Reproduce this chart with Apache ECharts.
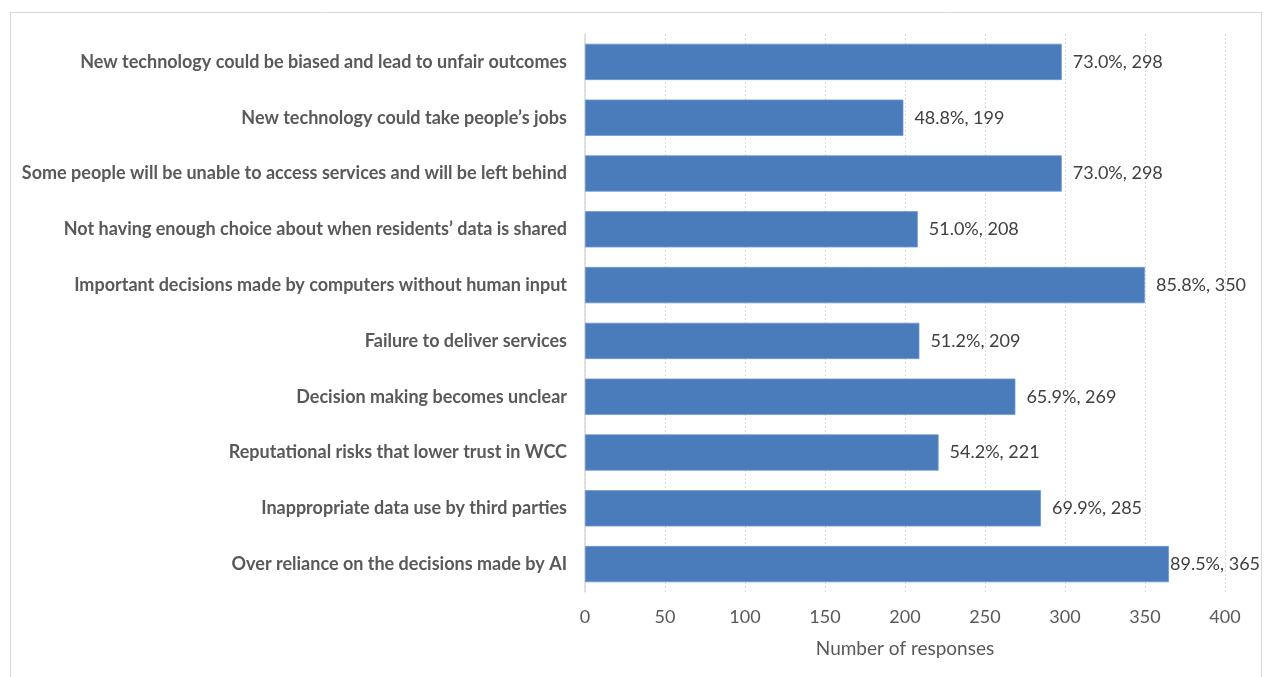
<!DOCTYPE html>
<html>
<head>
<meta charset="utf-8">
<script src="https://cdn.jsdelivr.net/npm/echarts@6/dist/echarts.min.js"></script>
<style>
  html, body { margin: 0; padding: 0; background: #fff; }
  #chart { width: 1264px; height: 677px; }
</style>
</head>
<body>
<div id="chart"></div>
<script>
// Concerns about new technology, listed top to bottom
const categories = [
  "New technology could be biased and lead to unfair outcomes",
  "New technology could take people\u2019s jobs",
  "Some people will be unable to access services and will be left behind",
  "Not having enough choice about when residents\u2019 data is shared",
  "Important decisions made by computers without human input",
  "Failure to deliver services",
  "Decision making becomes unclear",
  "Reputational risks that lower trust in WCC",
  "Inappropriate data use by third parties",
  "Over reliance on the decisions made by AI"
];
const responses = [298, 199, 298, 208, 350, 209, 269, 221, 285, 365];
const percents = ["73.0%", "48.8%", "73.0%", "51.0%", "85.8%", "51.2%", "65.9%", "54.2%", "69.9%", "89.5%"];
const labelGaps = [11, 11, 11, 11, 11, 11, 11, 11, 11, 1];
const xTicks = [0, 50, 100, 150, 200, 250, 300, 350, 400];

const chart = echarts.init(document.getElementById('chart'), null, { renderer: 'canvas' });

const fontFamily = 'Lato, "Open Sans", sans-serif';

chart.setOption({
  animation: false,
  backgroundColor: '#ffffff',
  graphic: [{
    type: 'rect',
    shape: { x: 10.5, y: 12.5, width: 1251, height: 700 },
    style: { fill: 'none', stroke: '#d9d9d9', lineWidth: 1 },
    silent: true,
    z: -1
  }],
  grid: { left: 585, right: 39, top: 34, bottom: 85, containLabel: false },
  xAxis: {
    type: 'value',
    min: xTicks[0],
    max: xTicks[xTicks.length - 1],
    interval: xTicks[1] - xTicks[0],
    name: 'Number of responses',
    nameLocation: 'middle',
    nameGap: 47,
    nameTextStyle: { color: '#595959', fontSize: 19, fontFamily: fontFamily },
    axisLine: { show: false },
    axisTick: { show: false },
    axisLabel: { color: '#595959', fontSize: 18, fontFamily: fontFamily, margin: 16 },
    splitLine: { show: true, lineStyle: { color: '#d9d9d9', type: [2, 2], width: 1 } }
  },
  yAxis: {
    type: 'category',
    data: categories,
    inverse: true,
    axisLine: { show: true, lineStyle: { color: '#d9d9d9', width: 1.5 } },
    axisTick: { show: false },
    axisLabel: {
      color: '#595959', fontSize: 18, fontWeight: 'bold', fontFamily: fontFamily, margin: 18
    },
    splitLine: { show: false }
  },
  series: [{
    type: 'bar',
    data: responses.map((v, i) => ({
      value: v,
      label: { distance: labelGaps[i] }
    })),
    barCategoryGap: '35%',
    itemStyle: { color: '#4a7bbb', borderColor: '#6f99cf', borderWidth: 0.8 },
    label: {
      show: true,
      position: 'right',
      color: '#404040',
      fontSize: 18,
      fontFamily: fontFamily,
      formatter: p => percents[p.dataIndex] + ', ' + p.value
    }
  }]
});
</script>
</body>
</html>
